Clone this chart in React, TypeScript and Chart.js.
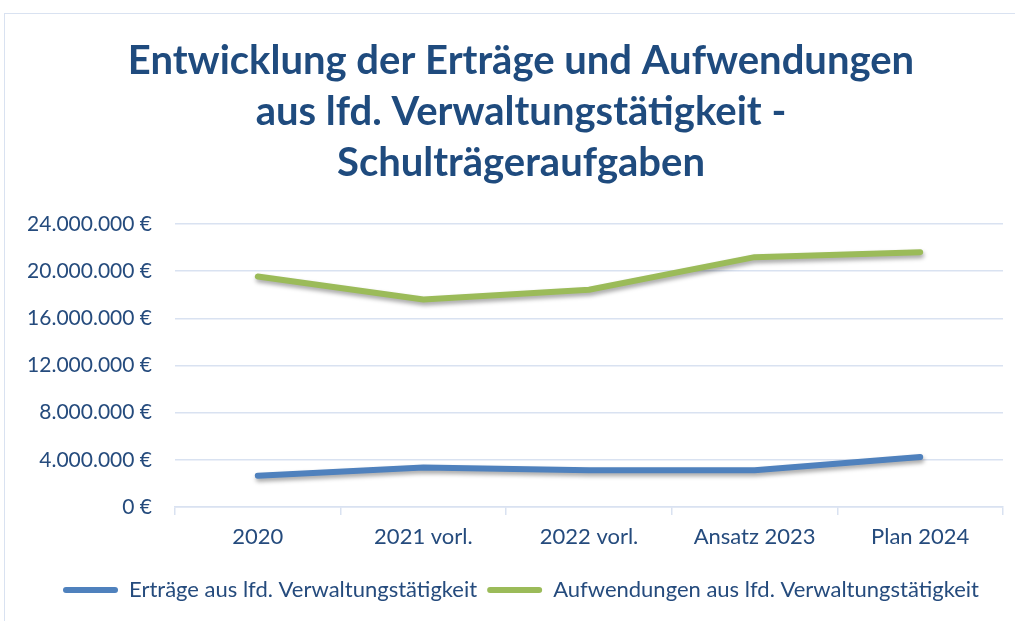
import React, { useEffect, useRef } from "react";
import { Chart, registerables } from "chart.js";
Chart.register(...registerables);

const categories = ["2020", "2021 vorl.", "2022 vorl.", "Ansatz 2023", "Plan 2024"];
const ertraege = [2660000, 3340000, 3110000, 3110000, 4240000];
const aufwendungen = [19550000, 17600000, 18420000, 21190000, 21610000];
const seriesNames = [
  "Erträge aus lfd. Verwaltungstätigkeit",
  "Aufwendungen aus lfd. Verwaltungstätigkeit",
];
const titleLines = [
  "Entwicklung der Erträge und Aufwendungen",
  "aus lfd. Verwaltungstätigkeit -",
  "Schulträgeraufgaben",
];
const yMin = 0;
const yMax = 24000000;
const yStep = 4000000;

const FONT = "Lato, 'Open Sans', sans-serif";
const TEXT = "#254B7D";
const TITLE = "#1F4B7E";
const GRID = "#D9E2F1";

const W = 1034;
const H = 608;

function fmt(v: number): string {
  const s = Math.round(v).toString().replace(/\B(?=(\d{3})+(?!\d))/g, ".");
  return s + " €";
}

const shadowPlugin = {
  id: "lineShadow",
  beforeDatasetsDraw(chart: any) {
    const ctx = chart.ctx;
    ctx.save();
    ctx.shadowColor = "rgba(0,0,0,0.35)";
    ctx.shadowBlur = 4;
    ctx.shadowOffsetX = 1;
    ctx.shadowOffsetY = 3;
  },
  afterDatasetsDraw(chart: any) {
    chart.ctx.restore();
  },
};

export default function App() {
  const ref = useRef<HTMLCanvasElement | null>(null);
  useEffect(() => {
    document.body.style.margin = "0";
    const c = ref.current;
    if (!c) return;
    const chart = new Chart(c, {
      type: "line",
      data: {
        labels: categories,
        datasets: [
          {
            label: seriesNames[0],
            data: ertraege,
            borderColor: "#4F81BD",
            backgroundColor: "#4F81BD",
            borderWidth: 6,
            pointRadius: 0,
            tension: 0,
            borderCapStyle: "round",
            borderJoinStyle: "round",
          },
          {
            label: seriesNames[1],
            data: aufwendungen,
            borderColor: "#9BBB59",
            backgroundColor: "#9BBB59",
            borderWidth: 6,
            pointRadius: 0,
            tension: 0,
            borderCapStyle: "round",
            borderJoinStyle: "round",
          },
        ],
      },
      options: {
        animation: false,
        responsive: false,
        maintainAspectRatio: false,
        layout: { padding: { left: 20, right: 20, top: 0, bottom: 10 } },
        plugins: {
          tooltip: { enabled: false },
          title: {
            display: true,
            text: titleLines,
            color: TITLE,
            font: { family: FONT, size: 40, weight: "bold", lineHeight: 1.275 },
            padding: { top: 23, bottom: 35 },
          },
          legend: {
            position: "bottom",
            labels: {
              color: TEXT,
              font: { family: FONT, size: 22 },
              boxWidth: 55,
              boxHeight: 6,
              useBorderRadius: true,
              borderRadius: 3,
              padding: 10,
              generateLabels: (ch: any) =>
                (Chart.defaults.plugins.legend.labels.generateLabels as any)(ch).map((l: any) => ({
                  ...l,
                  lineWidth: 0,
                  fillStyle: l.strokeStyle,
                })),
            },
          },
        },
        scales: {
          x: {
            offset: true,
            afterFit: (s: any) => {
              s.height = 62;
            },
            grid: {
              offset: true,
              drawOnChartArea: false,
              drawTicks: true,
              tickLength: 8,
              color: GRID,
              lineWidth: 1.5,
            },
            border: { display: true, color: GRID, width: 1.5 },
            ticks: { color: TEXT, font: { family: FONT, size: 22 }, padding: 9 },
          },
          y: {
            min: yMin,
            max: yMax,
            afterFit: (s: any) => {
              s.width = 151;
            },
            grid: { drawTicks: false, color: GRID, lineWidth: 1.5 },
            border: { display: false },
            ticks: {
              stepSize: yStep,
              color: TEXT,
              font: { family: FONT, size: 21 },
              padding: 23,
              callback: (v: any) => fmt(Number(v)),
            },
          },
          y2: {
            position: "right",
            min: yMin,
            max: yMax,
            afterFit: (s: any) => {
              s.width = 15;
            },
            grid: { display: false, drawOnChartArea: false },
            border: { display: false },
            ticks: { display: false },
          },
        },
      },
      plugins: [shadowPlugin],
    } as any);
    return () => chart.destroy();
  }, []);
  return (
    <div style={{ position: "relative", width: 1015, height: 621, overflow: "hidden", background: "#fff" }}>
      <div
        style={{
          position: "absolute",
          left: 4,
          top: 13,
          width: W,
          height: 1000,
          border: "1.5px solid #D9E2F1",
          boxSizing: "border-box",
        }}
      />
      <canvas ref={ref} width={W} height={H} style={{ position: "absolute", left: 4, top: 13 }} />
    </div>
  );
}
